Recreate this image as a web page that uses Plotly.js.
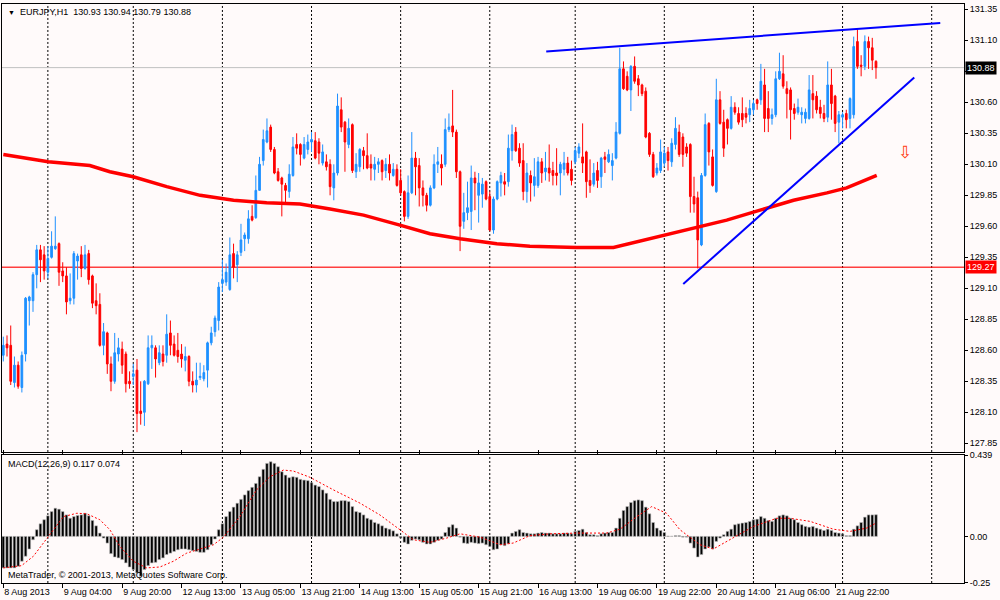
<!DOCTYPE html>
<html><head><meta charset="utf-8">
<script src="https://cdn.plot.ly/plotly-3.0.1.min.js"></script>
<style>html,body{margin:0;padding:0;background:#fffafa;}#chart{width:1000px;height:600px;}</style>
</head><body><div id="chart"></div>
<script>
const symbol = 'EURJPY,H1';
const open = [128.56,128.65,128.64,128.34,128.48,128.30,128.57,129.00,129.00,129.21,129.41,129.37,129.23,129.35,129.42,129.46,129.24,129.20,129.00,129.02,
129.32,129.37,129.26,129.38,129.20,129.00,128.97,128.64,128.74,128.49,128.35,128.57,128.61,128.57,128.35,128.39,128.44,128.11,128.10,128.33,
128.62,128.62,128.50,128.57,128.56,128.74,128.65,128.60,128.57,128.52,128.55,128.35,128.32,128.38,128.37,128.44,128.66,128.75,128.84,129.14,
129.15,129.09,129.38,129.29,129.39,129.50,129.50,129.68,129.67,129.89,130.13,130.28,130.40,130.22,130.04,129.99,129.93,129.88,130.01,130.26,
130.26,130.15,130.22,130.28,130.29,130.28,130.11,130.12,130.10,129.91,130.03,130.54,130.44,130.26,130.42,130.04,130.08,130.21,130.17,130.10,
130.06,130.10,130.13,130.05,130.10,130.01,130.06,129.97,129.88,129.68,129.87,130.15,130.09,129.91,129.85,129.77,129.91,130.10,130.10,130.10,
130.38,130.41,130.36,130.04,129.64,129.71,129.72,129.99,129.85,129.86,129.96,129.84,129.57,129.82,129.95,129.96,129.96,130.21,130.36,130.23,
130.13,129.88,130.01,129.93,129.93,130.12,130.04,130.07,130.05,130.03,130.03,130.06,130.11,130.06,130.12,130.19,130.16,130.20,129.97,129.94,
130.05,130.00,130.16,130.12,130.09,130.15,130.35,130.87,130.81,130.70,130.89,130.79,130.74,130.69,130.35,130.18,130.03,130.05,130.11,130.20,
130.12,130.26,130.36,130.32,130.24,130.26,129.84,129.83,129.45,130.01,130.43,130.16,129.88,130.62,130.44,130.46,130.39,130.56,130.51,130.51,
130.51,130.50,130.54,130.62,130.62,130.74,130.55,130.47,130.50,130.79,130.83,130.71,130.70,130.55,130.52,130.50,130.47,130.47,130.67,130.65,
130.56,130.51,130.48,130.74,130.65,130.44,130.48,130.51,130.47,130.50,131.09,130.90,130.89,131.09,131.04,130.93];
const high = [128.71,128.72,128.80,128.55,128.51,128.59,129.03,129.04,129.23,129.45,129.45,129.44,129.44,129.56,129.68,129.47,129.31,129.27,129.22,129.40,
129.38,129.44,129.45,129.41,129.21,129.14,129.06,128.82,128.75,128.55,128.74,128.70,128.67,128.59,128.43,128.49,128.53,128.35,128.36,128.72,
128.72,128.64,128.64,128.64,128.89,128.84,128.72,128.74,128.65,128.63,128.56,128.43,128.50,128.50,128.48,128.67,128.79,128.88,129.15,129.33,
129.30,129.51,129.46,129.40,129.62,129.55,129.73,129.77,130.01,130.16,130.38,130.47,130.42,130.24,130.07,130.00,129.95,130.10,130.32,130.35,
130.27,130.32,130.34,130.36,130.36,130.31,130.26,130.18,130.14,130.10,130.67,130.64,130.45,130.47,130.43,130.19,130.23,130.24,130.35,130.18,
130.16,130.15,130.14,130.15,130.18,130.11,130.10,130.06,129.89,130.01,130.36,130.20,130.15,129.97,129.87,129.93,130.18,130.24,130.18,130.47,
130.51,130.70,130.38,130.05,129.87,129.96,130.09,130.04,130.03,129.99,129.97,129.88,129.84,129.97,130.04,130.03,130.34,130.42,130.40,130.27,
130.27,130.11,130.05,130.15,130.16,130.15,130.20,130.26,130.12,130.23,130.12,130.20,130.16,130.13,130.24,130.27,130.43,130.21,130.14,130.11,
130.12,130.16,130.20,130.22,130.19,130.44,131.04,130.93,130.85,130.90,130.97,130.82,130.75,130.72,130.36,130.20,130.11,130.30,130.24,130.24,
130.31,130.48,130.42,130.35,130.27,130.27,130.00,129.88,130.03,130.51,130.44,130.22,130.79,130.69,130.54,130.47,130.65,130.60,130.56,130.64,
130.56,130.62,130.62,130.63,130.91,130.87,130.69,130.55,130.85,131.00,130.98,130.77,130.72,130.59,130.63,130.56,130.55,130.82,130.82,130.69,
130.62,130.58,130.93,130.87,130.66,130.53,130.52,130.54,130.64,131.13,131.19,130.98,131.14,131.13,131.12,130.94];
const low = [128.51,128.55,128.32,128.30,128.29,128.26,128.51,128.80,128.91,129.10,129.15,129.17,129.18,129.34,129.41,129.12,129.15,128.89,128.97,128.97,
129.17,129.19,129.25,129.13,128.94,128.89,128.63,128.56,128.41,128.27,128.33,128.51,128.41,128.26,128.29,128.32,127.94,128.00,127.99,128.32,
128.45,128.38,128.48,128.47,128.50,128.56,128.55,128.50,128.46,128.43,128.31,128.26,128.26,128.36,128.35,128.30,128.64,128.71,128.76,129.07,
129.12,129.08,129.18,129.15,129.36,129.40,129.46,129.64,129.66,129.89,130.09,130.27,130.20,130.02,129.96,129.68,129.78,129.83,130.00,130.18,
130.09,130.14,130.18,130.20,130.14,130.10,130.09,130.05,129.85,129.81,130.01,130.36,130.04,130.23,130.03,129.99,130.04,130.06,130.06,129.97,
129.97,130.03,129.97,129.99,129.97,130.00,129.92,129.85,129.64,129.66,129.86,129.85,129.76,129.76,129.72,129.76,129.90,130.03,129.93,130.08,
130.36,130.32,129.99,129.40,129.58,129.65,129.57,129.73,129.63,129.75,129.81,129.56,129.54,129.81,129.84,129.85,129.92,130.13,130.20,130.08,
129.81,129.79,129.80,129.84,129.91,129.95,129.97,129.96,129.93,129.93,129.85,130.01,130.01,129.93,130.10,130.15,130.03,129.83,129.87,129.92,
129.91,129.91,130.03,130.11,129.97,130.14,130.34,130.70,130.69,130.53,130.75,130.65,130.65,130.31,130.16,129.99,130.01,130.03,130.08,130.05,
130.08,130.22,130.16,130.08,130.16,129.71,129.71,129.26,129.44,130.00,130.09,129.92,129.87,130.42,130.16,130.26,130.38,130.50,130.42,130.40,
130.43,130.44,130.50,130.54,130.58,130.36,130.36,130.42,130.48,130.78,130.71,130.47,130.30,130.46,130.50,130.43,130.43,130.46,130.47,130.51,
130.47,130.44,130.44,130.46,130.36,130.27,130.39,130.39,130.39,130.47,130.87,130.81,130.86,130.87,130.86,130.79];
const close = [128.64,128.62,128.35,128.48,128.31,128.56,129.02,129.03,129.21,129.41,129.33,129.24,129.34,129.44,129.44,129.23,129.20,128.99,129.02,129.38,
129.36,129.26,129.37,129.17,128.98,128.96,128.64,128.75,128.49,128.35,128.58,128.62,128.48,128.33,128.33,128.41,128.09,128.09,128.35,128.62,
128.64,128.53,128.58,128.51,128.73,128.64,128.56,128.55,128.53,128.55,128.35,128.32,128.36,128.39,128.42,128.66,128.74,128.86,129.11,129.17,
129.23,129.37,129.27,129.37,129.49,129.53,129.66,129.65,129.89,130.10,130.30,130.37,130.22,130.03,129.97,129.94,129.89,130.02,130.24,130.23,
130.18,130.26,130.28,130.30,130.15,130.19,130.20,130.08,129.92,130.03,130.57,130.40,130.28,130.39,130.05,130.10,130.22,130.17,130.07,130.07,
130.10,130.12,130.04,130.10,130.03,130.06,129.93,129.87,129.68,129.87,130.15,130.08,129.91,129.85,129.77,129.91,130.10,130.12,130.07,130.38,
130.40,130.36,130.04,129.60,129.71,129.75,129.99,129.95,129.95,129.94,129.82,129.57,129.82,129.96,130.01,129.94,130.23,130.34,130.21,130.11,
129.88,130.03,129.95,130.00,130.12,130.03,130.07,130.03,130.01,130.01,130.10,130.11,130.03,129.97,130.21,130.24,130.11,129.96,129.93,130.03,
129.97,130.15,130.14,130.18,130.13,130.36,130.87,130.71,130.70,130.89,130.77,130.74,130.67,130.32,130.18,130.00,130.07,130.20,130.19,130.13,
130.27,130.39,130.18,130.18,130.19,129.84,129.78,129.49,130.01,130.42,130.20,129.93,130.62,130.43,130.23,130.39,130.56,130.52,130.44,130.46,
130.48,130.55,130.59,130.59,130.77,130.47,130.47,130.50,130.79,130.85,130.73,130.67,130.54,130.51,130.56,130.52,130.52,130.70,130.62,130.54,
130.51,130.47,130.74,130.59,130.43,130.50,130.50,130.46,130.63,131.05,130.89,130.89,131.09,131.04,130.94,130.88];

const maBars   = [0,12.1,23.3,28.7,35.0,44.0,53.0,62.0,70.9,79.9,88.0,97.0,106.8,114.9,123.0,132.9,141.8,154.4,164.3,176.9,185.8,194.8,203.8,212.8,221.8,227.1,235.2];
const maValues = [130.18,130.12,130.09,130.04,130.00,129.92,129.85,129.81,129.79,129.78,129.74,129.69,129.61,129.54,129.50,129.46,129.44,129.43,129.43,129.52,129.59,129.65,129.73,129.81,129.87,129.91,130.01];

const macdHist = [-0.170,-0.170,-0.170,-0.170,-0.161,-0.134,-0.107,-0.068,-0.018,0.036,0.068,0.090,0.111,0.134,0.152,0.147,0.134,0.116,0.098,0.107,
0.113,0.116,0.125,0.111,0.086,0.057,0.018,-0.009,-0.036,-0.093,-0.111,-0.116,-0.125,-0.143,-0.165,-0.179,-0.197,-0.215,-0.179,-0.158,
-0.143,-0.140,-0.125,-0.116,-0.098,-0.090,-0.081,-0.072,-0.068,-0.068,-0.072,-0.077,-0.081,-0.086,-0.086,-0.072,-0.045,-0.014,0.036,0.068,
0.107,0.134,0.158,0.179,0.200,0.224,0.247,0.265,0.286,0.322,0.362,0.394,0.403,0.394,0.376,0.349,0.331,0.317,0.322,0.319,
0.308,0.304,0.301,0.290,0.277,0.269,0.251,0.233,0.200,0.188,0.188,0.193,0.193,0.188,0.161,0.134,0.129,0.116,0.098,0.090,
0.075,0.068,0.057,0.045,0.039,0.030,0.014,-0.009,-0.032,-0.041,-0.021,-0.014,-0.018,-0.032,-0.041,-0.041,-0.032,-0.021,-0.014,0.021,
0.050,0.063,0.045,-0.004,-0.036,-0.039,-0.032,-0.036,-0.039,-0.036,-0.045,-0.054,-0.072,-0.068,-0.045,-0.050,-0.039,0.018,0.027,0.036,
0.021,0.018,0.014,0.014,0.018,0.021,0.018,0.018,0.014,0.014,0.014,0.018,0.018,0.014,0.027,0.032,0.039,0.021,0.009,0.009,
0.004,0.014,0.018,0.021,0.021,0.045,0.098,0.140,0.161,0.183,0.193,0.197,0.193,0.158,0.122,0.075,0.045,0.032,0.021,0.002,
0.001,0.004,0.004,-0.004,-0.004,-0.036,-0.063,-0.111,-0.098,-0.068,-0.057,-0.068,-0.027,-0.009,0.009,0.027,0.039,0.063,0.068,0.072,
0.075,0.081,0.090,0.093,0.107,0.098,0.086,0.081,0.098,0.111,0.116,0.111,0.098,0.090,0.075,0.063,0.054,0.050,0.054,0.045,
0.039,0.032,0.039,0.032,0.021,0.018,0.014,0.004,0.004,0.039,0.057,0.075,0.104,0.116,0.116,0.117];

const signalBars   = [0,4.9,8.1,12.1,16.2,19.8,22.5,26.0,28.7,31.4,35.0,38.6,42.2,45.8,49.4,53.0,56.6,59.3,63.7,68.2,71.8,75.4,78.1,82.6,88.9,96.1,101.4,106.8,110.4,114.9,119.4,123.0,128.4,133.8,137.3,141.8,147.2,154.4,162.5,166.1,170.6,174.6,178.6,182.2,187.6,191.2,196.6,202.0,208.3,211.8,217.3,223.5,228.0,232.5,235.2];
const signalValues = [-0.170,-0.158,-0.107,-0.004,0.107,0.125,0.122,0.090,0.036,-0.054,-0.134,-0.170,-0.165,-0.134,-0.090,-0.068,-0.045,-0.004,0.107,0.251,0.322,0.358,0.353,0.319,0.251,0.179,0.116,0.036,-0.018,-0.032,-0.009,0.014,-0.004,-0.045,-0.036,0.004,0.014,0.018,0.018,0.039,0.107,0.161,0.125,0.036,-0.045,-0.068,-0.009,0.054,0.098,0.098,0.081,0.039,0.027,0.045,0.074];

const macdMain = 0.117, macdSignal = 0.074;

const tickBars   = [0,16,32,48,64,80,96,112,128,144,160,176,192,208,224];
const tickLabels = ['8 Aug 2013','9 Aug 04:00','9 Aug 20:00','12 Aug 13:00','13 Aug 05:00','13 Aug 21:00','14 Aug 13:00','15 Aug 05:00','15 Aug 21:00','16 Aug 13:00','19 Aug 06:00','19 Aug 22:00','20 Aug 14:00','21 Aug 06:00','21 Aug 22:00'];
const dayBreaks  = [12,35,59,83,107,131,154,178,202,226,250];

const priceTicks = [131.35,131.10,130.85,130.60,130.35,130.10,129.85,129.60,129.35,129.10,128.85,128.60,128.35,128.10,127.85];
const macdTicks = [0.439,0,-0.25];
const macdTickText = ['0.439','0.00','-0.25'];

const upperTrendBars = [146.2,252.3], upperTrendPrices = [131.01,131.24];
const lowerTrendBars = [183.1,245.3], lowerTrendPrices = [129.135,130.80];
const bidPrice = 130.88;
const levelPrice = 129.27;
const arrowBar = 242.8, arrowPrice = 130.20;

const bars = close.map((_, i) => i);
const last = close.length - 1;
const FONT = 'Liberation Sans, Arial, sans-serif';
const BG = '#fffafa';
const f = v => v.toFixed(2);

const traces = [
  {type:'candlestick', x:bars, open:open, high:high, low:low, close:close, xaxis:'x', yaxis:'y',
   increasing:{line:{color:'#1e90ff', width:1}, fillcolor:'#1e90ff'},
   decreasing:{line:{color:'#ff0000', width:1}, fillcolor:'#ff0000'},
   whiskerwidth:0, hoverinfo:'skip'},
  {type:'scatter', mode:'lines', x:maBars, y:maValues, xaxis:'x', yaxis:'y',
   line:{color:'#ff0000', width:3.5}, hoverinfo:'skip'},
  {type:'scatter', mode:'lines', x:upperTrendBars, y:upperTrendPrices, xaxis:'x', yaxis:'y',
   line:{color:'#0000ff', width:2}, hoverinfo:'skip'},
  {type:'scatter', mode:'lines', x:lowerTrendBars, y:lowerTrendPrices, xaxis:'x', yaxis:'y',
   line:{color:'#0000ff', width:2}, hoverinfo:'skip'},
  {type:'bar', x:bars, y:macdHist, xaxis:'x', yaxis:'y2',
   marker:{color:'#000000', line:{color:'#b8b8b8', width:0.6}}, hoverinfo:'skip'},
  {type:'scatter', mode:'lines', x:signalBars, y:signalValues, xaxis:'x', yaxis:'y2',
   line:{color:'#ff0000', width:1, dash:'2px,2px'}, hoverinfo:'skip'}
];

const shapes = [];
dayBreaks.forEach(b => {
  shapes.push({type:'line', xref:'x', yref:'y domain', x0:b, x1:b, y0:0, y1:1, layer:'below', line:{color:'#000', width:1, dash:'2px,2px'}});
  shapes.push({type:'line', xref:'x', yref:'y2 domain', x0:b, x1:b, y0:0, y1:1, layer:'below', line:{color:'#000', width:1, dash:'2px,2px'}});
});
shapes.push({type:'line', xref:'x domain', yref:'y', x0:0, x1:1, y0:bidPrice, y1:bidPrice, layer:'below', line:{color:'#c0c0c0', width:1}});
shapes.push({type:'line', xref:'x domain', yref:'y', x0:0, x1:1, y0:levelPrice, y1:levelPrice, layer:'below', line:{color:'rgba(255,0,0,0.75)', width:1.5}});

const annotations = [
  {xref:'paper', yref:'paper', x:0.004, y:1, xanchor:'left', yanchor:'top', yshift:-1, showarrow:false,
   text:'<span style="font-size:7px">▼</span>&nbsp;&nbsp;' + symbol + '&nbsp;&nbsp;' + f(open[last]) + ' ' + f(high[last]) + ' ' + f(low[last]) + ' ' + f(close[last]),
   font:{family:FONT, size:9, color:'#000'}},
  {xref:'paper', yref:'y2 domain', x:0.004, y:1, xanchor:'left', yanchor:'top', yshift:-2, showarrow:false,
   text:'MACD(12,26,9) ' + macdMain.toFixed(3) + ' ' + macdSignal.toFixed(3), font:{family:FONT, size:9, color:'#000'}},
  {xref:'paper', yref:'y2 domain', x:0.004, y:0, xanchor:'left', yanchor:'bottom', yshift:1, showarrow:false,
   text:'MetaTrader, © 2001-2013, MetaQuotes Software Corp.', font:{family:FONT, size:9, color:'#000'}},
  {xref:'paper', yref:'y', x:1, y:bidPrice, xanchor:'left', yanchor:'middle', xshift:1, showarrow:false,
   text:f(bidPrice), bgcolor:'#000', borderpad:1, font:{family:FONT, size:9, color:'#fff'}},
  {xref:'paper', yref:'y', x:1, y:levelPrice, xanchor:'left', yanchor:'middle', xshift:1, showarrow:false,
   text:f(levelPrice), bgcolor:'#ff0000', borderpad:1, font:{family:FONT, size:9, color:'#fff'}},
  {xref:'x', yref:'y', x:arrowBar, y:arrowPrice, showarrow:false, text:'⇩',
   font:{family:'DejaVu Sans, sans-serif', size:17, color:'#ff3a10'}}
];

// the tick hidden behind the bid-price box in the reference keeps its tick mark but no text
const priceTickText = priceTicks.map(v => Math.abs(v - bidPrice) < 0.1 ? '' : f(v));

const axisFont = {family:FONT, size:9, color:'#000'};
const layout = {
  width:1000, height:600,
  margin:{l:2, r:36, t:4, b:17, pad:0},
  paper_bgcolor:BG, plot_bgcolor:BG,
  showlegend:false, hovermode:false, dragmode:false,
  boxgap:0.35, bargap:0.3,
  xaxis:{type:'linear', range:[-0.35, 258.7], anchor:'y2', rangeslider:{visible:false},
    tickmode:'array', tickvals:tickBars, ticktext:tickLabels, tickangle:0, ticks:'outside', ticklen:4, tickcolor:'#000',
    ticklabelposition:'outside right', tickfont:axisFont, automargin:false,
    showgrid:false, zeroline:false, showline:true, linecolor:'#000', linewidth:1, mirror:'all'},
  yaxis:{domain:[0.2263,1], anchor:'x', side:'right', range:[127.78,131.393],
    tickmode:'array', tickvals:priceTicks, ticktext:priceTickText, ticks:'outside', ticklen:3, tickcolor:'#000',
    tickfont:axisFont, showgrid:false, zeroline:false, showline:true, linecolor:'#000', linewidth:1, mirror:true},
  yaxis2:{domain:[0,0.2211], anchor:'x', side:'right', range:[-0.2515,0.4395],
    tickmode:'array', tickvals:macdTicks, ticktext:macdTickText, ticks:'outside', ticklen:3, tickcolor:'#000',
    tickfont:axisFont, showgrid:false, zeroline:false, showline:true, linecolor:'#000', linewidth:1, mirror:true},
  shapes:shapes, annotations:annotations
};

Plotly.newPlot('chart', traces, layout, {staticPlot:true, displayModeBar:false});
</script>
</body></html>
